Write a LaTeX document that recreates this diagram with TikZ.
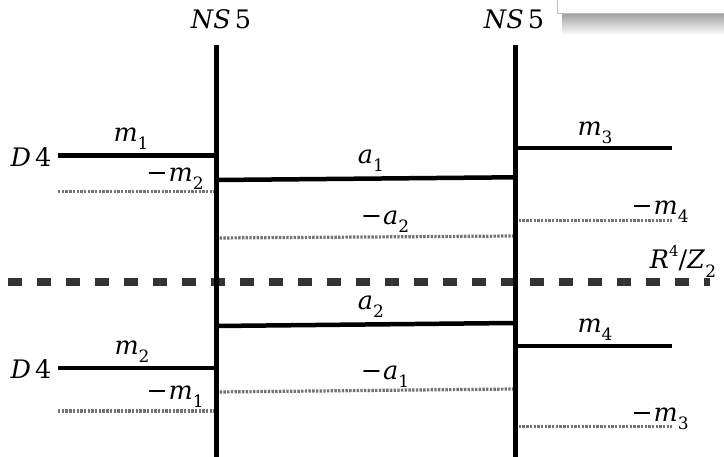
\documentclass[tikz,border=0pt]{standalone}
\usepackage{fontspec}
\setmainfont{DejaVu Serif}
% italic symbol with upright index below or above
\newcommand{\lo}[1]{\raisebox{-0.32em}{\fontsize{17}{18}\selectfont #1}}
\newcommand{\hi}[1]{\raisebox{0.5em}{\fontsize{15}{16}\selectfont #1}}
\newcommand{\mn}{\textup{−}\kern1pt}
\begin{document}
\begin{tikzpicture}[x=1pt,y=-1pt,
  ns/.style={line width=5pt},
  brane/.style={line width=4.5pt},
  mirror/.style={line width=3.2pt, draw=black!55, dash pattern=on 2.4pt off 1.3pt},
  orbi/.style={line width=7.5pt, draw=black!80, dash pattern=on 14pt off 15pt},
  lab/.style={inner sep=0pt, font=\fontsize{25.5}{30}\selectfont}]
\useasboundingbox (0,0) rectangle (724,456);

% shadowed panel in the corner
\shade[top color=black!38, bottom color=white] (562,13) rectangle (724,35);
\draw[black!25, fill=white, line width=1pt] (557,-5) rectangle (730,13);

% NS5 branes
\coordinate (L0) at (216,45);  \coordinate (L1) at (216,460);
\coordinate (R0) at (515,45);  \coordinate (R1) at (515,460);
\node[lab] (nsL) at (221,19) {\textit{NS}\kern4pt5};
\node[lab] (nsR) at (514,19) {\textit{NS}\kern4pt5};

% orbifold plane
\coordinate (O0) at (8,282);  \coordinate (O1) at (710,282);
\draw[orbi] (O0) -- (O1);
\node[lab] (orb) at (683,261) {\textit{R}\hi{4}/\textit{Z}\lo{2}};

% left D4 branes and images
\coordinate (d1a) at (58,155.7);  \coordinate (d1b) at (216,155.7);
\coordinate (i1a) at (58,191.7);  \coordinate (i1b) at (216,191.7);
\coordinate (d2a) at (58,368);    \coordinate (d2b) at (216,368);
\coordinate (i2a) at (58,411);    \coordinate (i2b) at (216,411);
\draw[brane] (d1a) -- (d1b);
\draw[brane] (d2a) -- (d2b);
\draw[mirror] (i1a) -- (i1b);
\draw[mirror] (i2a) -- (i2b);
\node[lab] (D4a) at (31,157) {\textit{D}\kern4pt4};
\node[lab] (D4b) at (31,369) {\textit{D}\kern4pt4};
\node[lab] (m1) at (131,139) {\textit{m}\lo{1}};
\node[lab] (mm2) at (175,178.5) {\mn\textit{m}\lo{2}};
\node[lab] (m2) at (132,352) {\textit{m}\lo{2}};
\node[lab] (mm1) at (175,397) {\mn\textit{m}\lo{1}};

% middle D4 branes and images
\coordinate (a1a) at (216,180);  \coordinate (a1b) at (513,177.3);
\coordinate (j1a) at (216,238);  \coordinate (j1b) at (513,236);
\coordinate (a2a) at (216,326);  \coordinate (a2b) at (513,323);
\coordinate (j2a) at (216,392);  \coordinate (j2b) at (513,389);
\draw[brane] (a1a) -- (a1b);
\draw[brane] (a2a) -- (a2b);
\draw[mirror] (j1a) -- (j1b);
\draw[mirror] (j2a) -- (j2b);
\node[lab] (a1) at (371,161) {\textit{a}\lo{1}};
\node[lab] (ma2) at (385,222) {\mn\textit{a}\lo{2}};
\node[lab] (a2) at (371,307) {\textit{a}\lo{2}};
\node[lab] (ma1) at (385,377) {\mn\textit{a}\lo{1}};

% right D4 branes and images
\coordinate (m3a) at (515,148);    \coordinate (m3b) at (672,148);
\coordinate (k1a) at (515,220.7);  \coordinate (k1b) at (672,220.7);
\coordinate (m4a) at (515,346);    \coordinate (m4b) at (672,346);
\coordinate (k2a) at (515,426.7);  \coordinate (k2b) at (672,426.7);
\draw[brane] (m3a) -- (m3b);
\draw[brane] (m4a) -- (m4b);
\draw[mirror] (k1a) -- (k1b);
\draw[mirror] (k2a) -- (k2b);
\node[lab] (m3) at (595,133) {\textit{m}\lo{3}};
\node[lab] (mm4) at (660,212) {\mn\textit{m}\lo{4}};
\node[lab] (m4) at (595,330) {\textit{m}\lo{4}};
\node[lab] (mm3) at (660,419) {\mn\textit{m}\lo{3}};

\draw[ns] (L0) -- (L1);
\draw[ns] (R0) -- (R1);
\end{tikzpicture}
\end{document}
